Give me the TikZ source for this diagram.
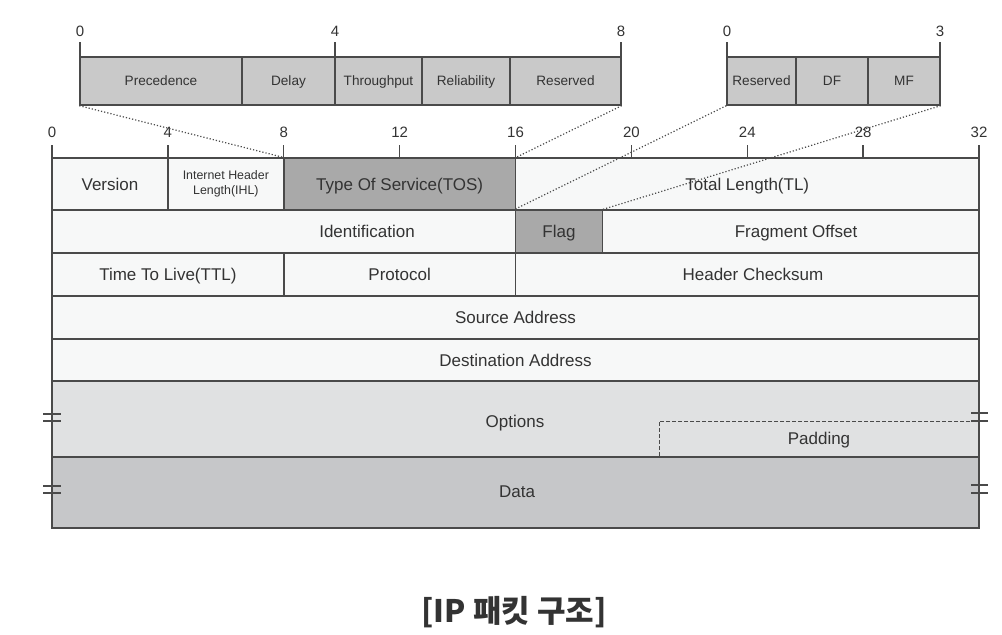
\documentclass[tikz,border=0pt]{standalone}
\usepackage{fontspec}
\setmainfont{Liberation Sans}
\newfontfamily\kofont{Noto Sans CJK KR}
\usetikzlibrary{positioning,fit}
\definecolor{linec}{HTML}{4A4A4A}
\definecolor{textc}{HTML}{333333}
\definecolor{rowc}{HTML}{F7F8F8}
\definecolor{darkc}{HTML}{A9A9A9}
\definecolor{boxc}{HTML}{C9C9C9}
\definecolor{optc}{HTML}{E0E1E2}
\definecolor{datac}{HTML}{C6C7C9}

\begin{document}
\begin{tikzpicture}[x=0.5pt,y=-0.5pt,
	cell/.style={draw=linec,line width=0.7pt,inner sep=0pt,fill=rowc},
	bitbox/.style={cell,fill=boxc},
	lbl/.style={text=textc,inner sep=0pt,text height=6.1pt,text depth=0pt,font=\fontsize{8.5}{10}\selectfont},
	small/.style={text=textc,inner sep=0pt,text height=4.9pt,text depth=0pt,font=\fontsize{6.8}{8}\selectfont},
	twoline/.style={text=textc,inner sep=0pt,align=center,font=\fontsize{6.2}{7.4}\selectfont},
	num/.style={text=textc,inner sep=0pt,font=\fontsize{7.5}{9}\selectfont},
	tick/.style={draw=linec,line width=0.7pt},
	zoomline/.style={draw=linec,densely dotted,line width=0.6pt},
	padline/.style={draw=linec,dashed,line width=0.5pt,dash pattern=on 2pt off 1pt},
	brk/.style={draw=linec,line width=0.7pt}]
	\useasboundingbox (0,0) rectangle (1002,634);

	\node[cell,fit={(52,158) (167.9,210)},label={[lbl]center:Version}] (ver) {};
	\node[cell,fit={(167.9,158) (283.8,210)},label={[twoline]center:Internet Header\\Length(IHL)}] (ihl) {};
	\node[cell,fill=darkc,fit={(283.8,158) (515.5,210)},label={[lbl]center:Type Of Service(TOS)}] (tos) {};
	\node[cell,fit={(515.5,158) (979,210)},label={[lbl]center:Total Length(TL)}] (tl) {};

	\node[cell,fit={(52,210) (515.5,253)}] (ident) {};
	\node[lbl] (identtxt) at (367,231.5) {Identification};
	\node[cell,fill=darkc,fit={(515.5,210) (602.4,253)},label={[lbl]center:Flag}] (flag) {};
	\node[cell,fit={(602.4,210) (979,253)}] (fo) {};
	\node[lbl] (fotxt) at (796,231.5) {Fragment Offset};

	\node[cell,fit={(52,253) (283.8,296)},label={[lbl]center:Time To Live(TTL)}] (ttl) {};
	\node[cell,fit={(283.8,253) (515.5,296)},label={[lbl]center:Protocol}] (proto) {};
	\node[cell,fit={(515.5,253) (979,296)}] (hc) {};
	\node[lbl] (hctxt) at (753,274.5) {Header Checksum};

	\node[cell,fit={(52,296) (979,339)},label={[lbl]center:Source Address}] (src) {};
	\node[cell,fit={(52,339) (979,381)},label={[lbl]center:Destination Address}] (dst) {};
	\node[cell,fill=optc,fit={(52,381) (979,457)}] (opt) {};
	\node[lbl] (opttxt) at (515,421) {Options};
	\node[cell,fill=datac,fit={(52,457) (979,528)}] (data) {};
	\node[lbl] (datatxt) at (517,491) {Data};

	\node[lbl] (pad) at (819,438) {Padding};
	\coordinate (padR) at (988,421);
	\coordinate (padB) at (659,457);
	\path[padline] (padR) -| (padB);

	\node[bitbox,fit={(80,57) (242,105)},label={[small]center:Precedence}] (prec) {};
	\node[bitbox,fit={(242,57) (335,105)},label={[small]center:Delay}] (delay) {};
	\node[bitbox,fit={(335,57) (422,105)},label={[small]center:Throughput}] (thr) {};
	\node[bitbox,fit={(422,57) (510,105)},label={[small]center:Reliability}] (rel) {};
	\node[bitbox,fit={(510,57) (621,105)},label={[small]center:Reserved}] (res) {};

	\node[bitbox,fit={(727,57) (796,105)},label={[small]center:Reserved}] (fres) {};
	\node[bitbox,fit={(796,57) (868,105)},label={[small]center:DF}] (df) {};
	\node[bitbox,fit={(868,57) (940,105)},label={[small]center:MF}] (mf) {};

	\foreach \b in {0,4,...,32}
	{
		\node[num] (n\b) at ({52+\b*28.97},132) {\b};
		\draw[tick] ({52+\b*28.97},145) -- ({52+\b*28.97},158);
	}
	\foreach \x/\t in {80/0,335/4,621/8,727/0,940/3}
	{
		\node[num] at (\x,31) {\t};
		\draw[tick] (\x,42) -- (\x,57);
	}

	\path[zoomline]
	(prec.south west) edge (tos.north west)
	(res.south east) edge (tos.north east)
	(fres.south west) edge (flag.north west)
	(mf.south east) edge (flag.north east);

	\foreach \y in {414,486}
	{
		\draw[brk] (43,\y) -- (61,\y) (43,\y+7) -- (61,\y+7);
		\draw[brk] (971,\y-1) -- (988,\y-1) (971,\y+7) -- (988,\y+7);
	}

	\node[text=textc,font=\kofont\bfseries\fontsize{15.5}{18}\selectfont] (title) at (514,612) {[IP 패킷 구조]};
\end{tikzpicture}
\end{document}
